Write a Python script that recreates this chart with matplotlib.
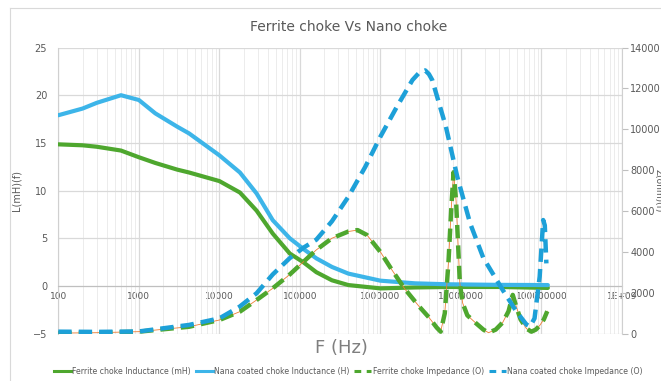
import numpy as np
import matplotlib.pyplot as plt
from matplotlib.lines import Line2D
from matplotlib.ticker import FixedLocator, LogLocator, FuncFormatter, NullFormatter

# inductance curves (left axis, mH)
f_L = [100, 200, 300, 600, 1000, 1600, 3000, 4200, 10000, 18000, 29000, 46000,
       75000, 110000, 160000, 250000, 400000, 1e6, 2.7e6, 7e6, 3e7, 1.2e8]
ferrite_L = [14.85, 14.75, 14.6, 14.2, 13.5, 12.9, 12.2, 11.9, 11.0, 9.8, 7.9, 5.5,
             3.4, 2.5, 1.45, 0.6, 0.1, -0.25, -0.15, -0.1, -0.1, -0.2]
nano_L = [17.9, 18.6, 19.2, 20.0, 19.5, 18.1, 16.7, 16.0, 13.7, 11.9, 9.7, 6.9,
          5.0, 3.9, 2.9, 2.0, 1.3, 0.56, 0.28, 0.18, 0.12, 0.1]

# impedance curves (right axis, ohm)
f_Zf = [100, 300, 1000, 4200, 10000, 18000, 29000, 46000, 75000, 160000, 250000,
        400000, 520000, 680000, 1e6, 1.4e6, 2e6, 3e6, 4e6, 5e6, 5.6e6, 6.3e6, 7.0e6,
        7.6e6, 8.1e6, 8.7e6, 9.7e6, 1.05e7, 1.2e7, 1.55e7, 1.9e7, 2.2e7, 2.7e7, 3.3e7,
        3.9e7, 4.4e7, 4.8e7, 5.5e7, 6.5e7, 7.5e7, 8.5e7, 9.5e7, 1.07e8, 1.18e8]
ferrite_Z = [30, 50, 100, 340, 670, 1080, 1650, 2220, 2900, 4100, 4670,
             5000, 5070, 4830, 4000, 3100, 2200, 1350, 800, 300, 100, 1000, 3500,
             6200, 7900, 6500, 2450, 1500, 900, 500, 200, 50, 200, 550,
             1100, 1900, 1400, 700, 250, 100, 200, 400, 700, 1100]

f_Zn = [100, 300, 1000, 4200, 10000, 17800, 29000, 46000, 75000, 110000, 160000,
        250000, 400000, 650000, 1e6, 1.6e6, 2.5e6, 3.0e6, 3.6e6, 4.0e6, 4.4e6, 6.5e6,
        9e6, 1.3e7, 1.9e7, 3.3e7, 4.9e7, 6.5e7, 7.2e7, 8.2e7, 9.5e7, 1.05e8, 1.1e8, 1.15e8]
nano_Z = [100, 90, 110, 430, 750, 1320, 1980, 2900, 3700, 4200, 4600,
          5500, 6700, 8170, 9640, 11100, 12410, 12750, 12880, 12700, 12410, 10130,
          7680, 5400, 3700, 2140, 1080, 450, 350, 750, 2790, 5560, 5300, 3440]

x_ticks = [1e2, 1e3, 1e4, 1e5, 1e6, 1e7, 1e8, 1e9]
x_labels = ['100', '1000', '10000', '100000', '1000000', '10000000', '100000000', '1E+09']

green = '#4EA72E'
blue = '#3DB5E9'
blue_d = '#1DA0D8'
txt = '#595959'
grid_c = '#D9D9D9'

fig = plt.figure(figsize=(6.61, 3.81), dpi=100)
ax = fig.add_axes([0.0882, 0.1241, 0.8528, 0.7512])

ax.set_xscale('log')
ax.set_xlim(1e2, 1e9)
ax.set_ylim(-5, 25)
ax.set_yticks(range(-5, 26, 5))
ax.xaxis.set_major_locator(FixedLocator(x_ticks))
ax.xaxis.set_major_formatter(FuncFormatter(lambda v, p: x_labels[x_ticks.index(v)] if v in x_ticks else ''))
ax.xaxis.set_minor_locator(LogLocator(base=10, subs=np.arange(2, 10)))
ax.xaxis.set_minor_formatter(NullFormatter())
ax.grid(True, which='major', color=grid_c, lw=0.9)
ax.grid(True, which='minor', axis='x', color='#ECECEC', lw=0.7)
ax.set_axisbelow(True)

ax.spines['bottom'].set_position(('data', 0))
ax.spines['bottom'].set_color('#BFBFBF')
ax.spines['left'].set_color('#D0D0D0')
ax.spines['top'].set_visible(False)
ax.spines['right'].set_visible(False)
ax.tick_params(axis='x', which='both', length=0, pad=4, labelsize=6.5, labelcolor=txt)
ax.tick_params(axis='y', length=0, pad=8, labelsize=7, labelcolor=txt)
ax.set_ylabel('L(mH)(f)', fontsize=7, color=txt, labelpad=8)

ax.plot(f_L, ferrite_L, color=green, lw=3, solid_capstyle='round', zorder=3)
ax.plot(f_L, nano_L, color=blue, lw=3, solid_capstyle='round', zorder=3)

ax2 = ax.twinx()
ax2.set_ylim(0, 14000)
ax2.set_yticks(range(0, 14001, 2000))
for s in ['left', 'top', 'bottom']:
    ax2.spines[s].set_visible(False)
ax2.spines['right'].set_color('#D0D0D0')
ax2.tick_params(axis='y', length=4, color='#BFBFBF', pad=2, labelsize=7, labelcolor=txt)

ax2.plot(f_Zf, ferrite_Z, color='#ED7D31', lw=0.6)
ax2.plot(f_Zf, ferrite_Z, color=green, lw=3.2, dashes=(3, 1.6))
ax2.plot(f_Zn, nano_Z, color=blue_d, lw=3.2, dashes=(3, 1.6))

fig.text(0.527, 0.93, 'Ferrite choke Vs Nano choke', ha='center', va='center',
         fontsize=10, color=txt)
fig.text(0.517, 0.087, 'F (Hz)', ha='center', va='center', fontsize=13, color='#7F7F7F')
# right axis title sits at the chart edge, as in the original
fig.text(0.9955, 0.50, 'Z(ohm)(f)', ha='center', va='center', rotation=270,
         fontsize=6.5, color=txt)

# chart frame
fig.add_artist(Line2D([0.015, 0.015], [0, 0.979], color=grid_c, lw=0.8))
fig.add_artist(Line2D([0.015, 1], [0.979, 0.979], color=grid_c, lw=0.8))

handles = [
    Line2D([], [], color=green, lw=2.2),
    Line2D([], [], color=blue, lw=2.2),
    Line2D([], [], color=green, lw=2.2, dashes=(2.2, 1.8)),
    Line2D([], [], color=blue_d, lw=2.2, dashes=(2.2, 1.8)),
]
labels = ['Ferrite choke Inductance (mH)', 'Nana coated choke Inductance (H)',
          'Ferrite choke Impedance (O)', 'Nana coated choke Impedance (O)']
fig.legend(handles, labels, loc='center', bbox_to_anchor=(0.527, 0.026), ncol=4,
           frameon=False, fontsize=5.6, handlelength=2.2, handletextpad=0.2,
           columnspacing=0.6, labelcolor=txt)

fig.savefig('out.png', dpi=100)
